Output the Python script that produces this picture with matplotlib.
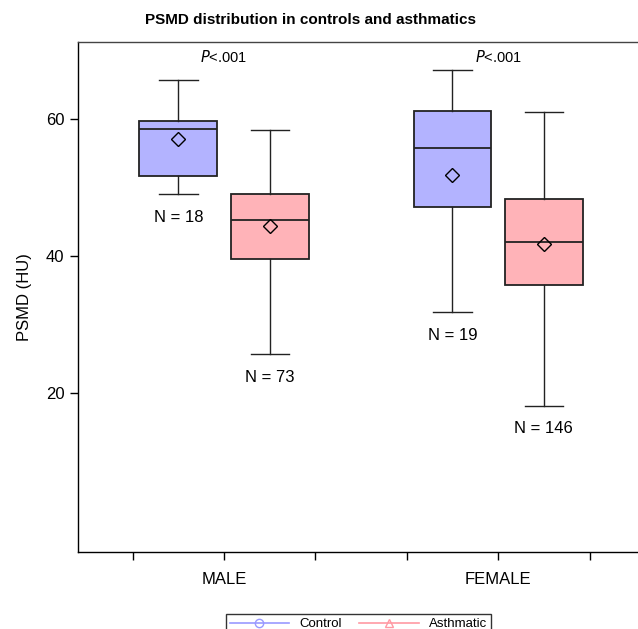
import matplotlib
matplotlib.use("Agg")
import matplotlib.pyplot as plt
from matplotlib.lines import Line2D

# Datos
groups = ["MALE", "FEMALE"]
series = ["Control", "Asthmatic"]
# orden: male control, male asthmatic, female control, female asthmatic
whisker_low = [49.0, 25.6, 31.8, 18.1]
q1 = [51.7, 39.5, 47.2, 35.8]
median = [58.6, 45.2, 55.8, 42.0]
q3 = [59.7, 49.1, 61.2, 48.3]
whisker_high = [65.7, 58.4, 67.1, 61.0]
means = [57.1, 44.3, 51.8, 41.7]
counts = [18, 73, 19, 146]
p_values = ["<.001", "<.001"]

plt.rcParams["font.family"] = ["Liberation Sans", "DejaVu Sans"]

fill_colors = {"Control": "#b3b3ff", "Asthmatic": "#ffb3b8"}
line_colors = {"Control": "#9999ff", "Asthmatic": "#ff99a3"}

fig = plt.figure(figsize=(6.38, 6.29), dpi=100)
ax = fig.add_axes([0.1215, 0.1219, 0.8785, 0.8118])

positions = [1.5, 2.5, 4.5, 5.5]
stats = []
for i in range(4):
    stats.append({
        "whislo": whisker_low[i], "q1": q1[i], "med": median[i],
        "q3": q3[i], "whishi": whisker_high[i], "mean": means[i],
    })

bp = ax.bxp(
    stats, positions=positions, widths=0.853, capwidths=0.42,
    patch_artist=True, showmeans=True, showfliers=False,
    boxprops={"edgecolor": "#222222", "linewidth": 1.3},
    medianprops={"color": "#222222", "linewidth": 1.3},
    whiskerprops={"color": "#222222", "linewidth": 1.0},
    capprops={"color": "#222222", "linewidth": 1.0},
    meanprops={"marker": "D", "markerfacecolor": "none",
               "markeredgecolor": "black", "markersize": 7,
               "markeredgewidth": 1.0},
)
for i, patch in enumerate(bp["boxes"]):
    patch.set_facecolor(fill_colors[series[i % 2]])

# etiquetas N debajo de cada bigote
for i in range(4):
    ax.text(positions[i], whisker_low[i] - 3.4, f"N = {counts[i]}",
            ha="center", va="center", fontsize=12)

# valores P
for g in range(2):
    ax.text(2 + 3 * g, 69.1, "$\\it{P}$" + p_values[g], ha="center",
            va="center", fontsize=10.5)

ax.set_xlim(0.397, 6.53)
ax.set_ylim(-3.35, 71.3)
ax.set_yticks([20, 40, 60])
ax.set_xticks([1, 2, 3, 4, 5, 6])
ax.set_xticklabels(["", groups[0], "", "", groups[1], ""])
ax.tick_params(axis="both", labelsize=12, length=6, width=1, direction="out")
ax.tick_params(axis="x", pad=8)
ax.spines["right"].set_visible(False)
for s in ["left", "bottom", "top"]:
    ax.spines[s].set_linewidth(1.0)
ax.spines["top"].set_color("#444444")
ax.set_ylabel("PSMD (HU)", fontsize=12, labelpad=10)

fig.text(0.487, 0.968, "PSMD distribution in controls and asthmatics",
         ha="center", va="center", fontsize=11, fontweight="bold")

handles = [
    Line2D([], [], color=line_colors["Control"], marker="o", markerfacecolor="none",
           markersize=6, linewidth=1.2, label="Control"),
    Line2D([], [], color=line_colors["Asthmatic"], marker="^", markerfacecolor="none",
           markersize=6, linewidth=1.2, label="Asthmatic"),
]
leg = fig.legend(handles=handles, loc="upper center", bbox_to_anchor=(0.562, 0.034),
                 ncol=2, fontsize=9.5, handlelength=4.5, frameon=True, fancybox=False,
                 borderpad=0.3, columnspacing=1.3, handletextpad=0.8)
leg.get_frame().set_edgecolor("black")
leg.get_frame().set_linewidth(1.0)

fig.savefig("out.png", dpi=100)
